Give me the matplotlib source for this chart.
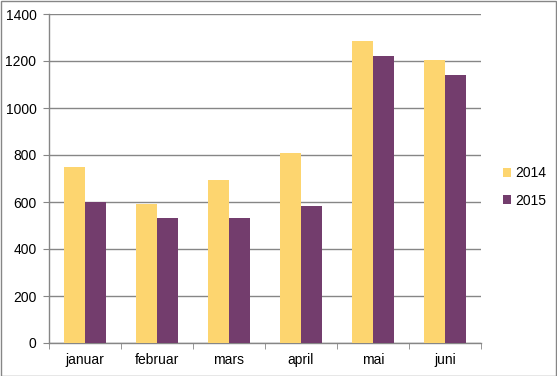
"""
Monthly totals 2014 vs 2015 — grouped bar chart, Excel style.
"""

import matplotlib
matplotlib.use("Agg")
import matplotlib.pyplot as plt
import numpy as np
from matplotlib.patches import Rectangle
from matplotlib.ticker import FixedLocator

months = ["januar", "februar", "mars", "april", "mai", "juni"]
values_2014 = [750, 592, 694, 808, 1285, 1204]
values_2015 = [600, 532, 532, 583, 1223, 1142]
series_labels = ["2014", "2015"]
y_ticks = [0, 200, 400, 600, 800, 1000, 1200, 1400]

COLOR_2014 = "#FDD56F"
COLOR_2015 = "#733D6D"
GRID = "#868686"

plt.rcParams["font.family"] = ["Liberation Sans", "DejaVu Sans"]
plt.rcParams["font.size"] = 10

fig = plt.figure(figsize=(5.57, 3.76), dpi=100)
ax = fig.add_axes([49 / 557, 1 - 343 / 376, 432 / 557, 329 / 376])

x = np.arange(len(months))
width = 0.286
ax.bar(x - width / 2, values_2014, width, color=COLOR_2014, label=series_labels[0], zorder=3)
ax.bar(x + width / 2, values_2015, width, color=COLOR_2015, label=series_labels[1], zorder=3)

ax.set_xlim(-0.5, len(months) - 0.5)
ax.set_ylim(0, 1400)
ax.set_yticks(y_ticks)
ax.set_xticks(x)
ax.set_xticklabels(months)
ax.xaxis.set_minor_locator(FixedLocator(np.arange(-0.5, len(months), 1.0)))

ax.yaxis.grid(True, color=GRID, linewidth=1, zorder=0)
ax.set_axisbelow(True)
for side in ("top", "right"):
    ax.spines[side].set_visible(False)
for side in ("left", "bottom"):
    ax.spines[side].set_color(GRID)
    ax.spines[side].set_linewidth(1)

ax.tick_params(axis="y", which="major", direction="out", length=4, color=GRID, pad=5)
ax.tick_params(axis="x", which="major", length=0, pad=7)
ax.tick_params(axis="x", which="minor", direction="out", length=4, color=GRID)

ax.legend(loc="center left", bbox_to_anchor=(1.051, 0.474), frameon=False,
          handlelength=0.6, handleheight=0.6, handletextpad=0.3,
          labelspacing=0.95, fontsize=10, borderaxespad=0, borderpad=0)

# chart area border
fig.patches.append(Rectangle((0.5 / 557, 0.5 / 376), 1 - 1.5 / 557, 1 - 1.5 / 376,
                             transform=fig.transFigure, fill=False,
                             edgecolor=GRID, linewidth=1))

fig.savefig("out.png", dpi=100)
